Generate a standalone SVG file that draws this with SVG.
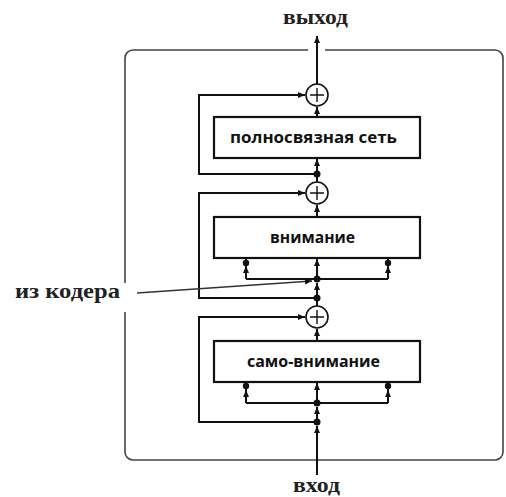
<svg xmlns="http://www.w3.org/2000/svg" width="506" height="497" viewBox="0 0 506 497">
<style>
.ln{fill:none;stroke:#111;stroke-width:2}
.frame{fill:none;stroke:#444;stroke-width:1.6}
.box{fill:#fff;stroke:#111;stroke-width:2.2}
.lbl{font-family:"Open Sans","DejaVu Sans",sans-serif;font-weight:700;font-size:16px;fill:#111;text-anchor:middle}
.ser{font-family:"Liberation Serif","DejaVu Serif",serif;font-weight:700;font-size:21px;fill:#222}
.dot{fill:#111}
.sum{fill:#fff;stroke:#111;stroke-width:1.6}
.plus{stroke:#111;stroke-width:1.4}
</style>
<defs>
<marker id="ah" markerWidth="8" markerHeight="8" refX="7" refY="4" orient="auto" markerUnits="userSpaceOnUse">
<path d="M0,1 L7,4 L0,7 Z" fill="#111"/>
</marker>
</defs>
<path class="frame" d="M325 50 H495 A8 8 0 0 1 503 58 V452 A8 8 0 0 1 495 460 H133 A8 8 0 0 1 125 452 V312 M125 283 V58 A8 8 0 0 1 133 50 H308"/>
<g id="connectors">
<path class="ln" d="M317 84 V36" marker-end="url(#ah)"/>
<path class="ln" d="M317 117 V107" marker-end="url(#ah)"/>
<path class="ln" d="M317 174 V159" marker-end="url(#ah)"/>
<path class="ln" d="M317 182 V174"/>
<path class="ln" d="M317 217 V205" marker-end="url(#ah)"/>
<path class="ln" d="M317 279 V259" marker-end="url(#ah)"/>
<path class="ln" d="M317 298 V283" marker-end="url(#ah)"/>
<path class="ln" d="M317 306 V298"/>
<path class="ln" d="M317 341 V329" marker-end="url(#ah)"/>
<path class="ln" d="M317 403 V383" marker-end="url(#ah)"/>
<path class="ln" d="M317 422 V407" marker-end="url(#ah)"/>
<path class="ln" d="M317 475 V426" marker-end="url(#ah)"/>
<path class="ln" d="M317 174 H199 V95 H305" marker-end="url(#ah)"/>
<path class="ln" d="M317 298 H199 V193 H305" marker-end="url(#ah)"/>
<path class="ln" d="M317 422 H199 V317 H305" marker-end="url(#ah)"/>
<path class="ln" d="M246 279 H388"/>
<path class="ln" d="M246 279 V266" marker-end="url(#ah)"/>
<path class="ln" d="M388 279 V266" marker-end="url(#ah)"/>
<path class="ln" d="M246 266 V259 M388 266 V259"/>
<path class="ln" d="M246 403 H388"/>
<path class="ln" d="M246 403 V390" marker-end="url(#ah)"/>
<path class="ln" d="M388 403 V390" marker-end="url(#ah)"/>
<path class="ln" d="M246 390 V383 M388 390 V383"/>
<path d="M137 293 L312 281" fill="none" stroke="#333" stroke-width="1.6" marker-end="url(#ah)"/>
<circle class="dot" cx="317" cy="174" r="3.5"/>
<circle class="dot" cx="317" cy="279" r="3.5"/>
<circle class="dot" cx="317" cy="298" r="3.5"/>
<circle class="dot" cx="317" cy="403" r="3.5"/>
<circle class="dot" cx="317" cy="422" r="3.5"/>
<circle class="dot" cx="246" cy="263" r="3.2"/>
<circle class="dot" cx="388" cy="263" r="3.2"/>
<circle class="dot" cx="246" cy="386" r="3.2"/>
<circle class="dot" cx="388" cy="386" r="3.2"/>
</g>
<g id="sum1"><circle class="sum" cx="317" cy="95" r="11"/><path class="plus" d="M310 95 H324 M317 88 V102"/></g>
<g id="sum2"><circle class="sum" cx="317" cy="193" r="11"/><path class="plus" d="M310 193 H324 M317 186 V200"/></g>
<g id="sum3"><circle class="sum" cx="317" cy="317" r="11"/><path class="plus" d="M310 317 H324 M317 310 V324"/></g>
<g id="ffn"><rect class="box" x="214" y="117" width="206" height="41"/><text class="lbl" x="313.5" y="143" textLength="167" lengthAdjust="spacingAndGlyphs">полносвязная сеть</text></g>
<g id="attn"><rect class="box" x="214" y="217" width="206" height="41"/><text class="lbl" x="312.5" y="243" textLength="85" lengthAdjust="spacingAndGlyphs">внимание</text></g>
<g id="selfattn"><rect class="box" x="214" y="341" width="206" height="41"/><text class="lbl" x="313.5" y="367" textLength="133" lengthAdjust="spacingAndGlyphs">само-внимание</text></g>
<g id="output"><text class="ser" x="283" y="24" textLength="65" lengthAdjust="spacingAndGlyphs">выход</text></g>
<g id="input"><text class="ser" x="293" y="492" textLength="47" lengthAdjust="spacingAndGlyphs">вход</text></g>
<g id="encoder"><text class="ser" x="15" y="298" textLength="105" lengthAdjust="spacingAndGlyphs">из кодера</text></g>
</svg>
